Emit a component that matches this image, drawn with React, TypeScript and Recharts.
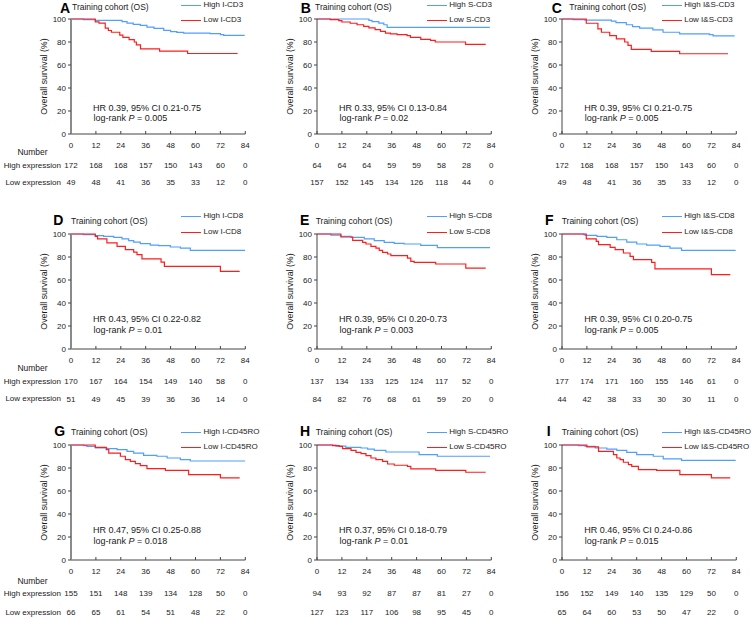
import { LineChart, Line, XAxis, YAxis } from 'recharts';

type Pt = [number, number];

const MONTHS = [0, 12, 24, 36, 48, 60, 72, 84];
const SURV_TICKS = [0, 20, 40, 60, 80, 100];

const LETTERS = ['A', 'B', 'C', 'D', 'E', 'F', 'G', 'H', 'I'];
const MARKERS = ['I-CD3', 'S-CD3', 'I&S-CD3', 'I-CD8', 'S-CD8', 'I&S-CD8', 'I-CD45RO', 'S-CD45RO', 'I&S-CD45RO'];
const HR_TEXT = [
  'HR 0.39, 95% CI 0.21-0.75', 'HR 0.33, 95% CI 0.13-0.84', 'HR 0.39, 95% CI 0.21-0.75',
  'HR 0.43, 95% CI 0.22-0.82', 'HR 0.39, 95% CI 0.20-0.73', 'HR 0.39, 95% CI 0.20-0.75',
  'HR 0.47, 95% CI 0.25-0.88', 'HR 0.37, 95% CI 0.18-0.79', 'HR 0.46, 95% CI 0.24-0.86',
];
const P_TEXT = ['0.005', '0.02', '0.005', '0.01', '0.003', '0.005', '0.018', '0.01', '0.015'];

// numbers at risk, one row per panel, at 0..84 months
const RISK_HIGH = [
  [172, 168, 168, 157, 150, 143, 60, 0],
  [64, 64, 64, 59, 59, 58, 28, 0],
  [172, 168, 168, 157, 150, 143, 60, 0],
  [170, 167, 164, 154, 149, 140, 58, 0],
  [137, 134, 133, 125, 124, 117, 52, 0],
  [177, 174, 171, 160, 155, 146, 61, 0],
  [155, 151, 148, 139, 134, 128, 50, 0],
  [94, 93, 92, 87, 87, 81, 27, 0],
  [156, 152, 149, 140, 135, 129, 50, 0],
];
const RISK_LOW = [
  [49, 48, 41, 36, 35, 33, 12, 0],
  [157, 152, 145, 134, 126, 118, 44, 0],
  [49, 48, 41, 36, 35, 33, 12, 0],
  [51, 49, 45, 39, 36, 36, 14, 0],
  [84, 82, 76, 68, 61, 59, 20, 0],
  [44, 42, 38, 33, 30, 30, 11, 0],
  [66, 65, 61, 54, 51, 48, 22, 0],
  [127, 123, 117, 106, 98, 95, 45, 0],
  [65, 64, 60, 53, 50, 47, 22, 0],
];

// KM steps: [month, survival %]
const A_HIGH: Pt[] = [[0, 100], [6, 99.5], [11.7, 98.8], [24.6, 97.7], [27, 96.5], [30, 95.4], [33.4, 94.5], [36.6, 93], [40, 91.9], [44.7, 90.1], [48, 89], [51, 88.4], [54.3, 87.8], [67, 87.3], [72, 86.5], [73.6, 85.8], [83.7, 85.8]];
const A_LOW: Pt[] = [[0, 100], [11.7, 97.5], [13.5, 96.5], [16.5, 92], [18, 90], [19.5, 88.5], [23.5, 86], [25, 84], [28, 82], [30.5, 80], [31.5, 77.5], [33.5, 74], [42.7, 72], [56.2, 70], [80.3, 70]];
const B_HIGH: Pt[] = [[0, 100], [25, 98.8], [26.5, 97.8], [29.8, 96.5], [32.2, 95], [33.8, 92.8], [83.3, 92.8]];
const B_LOW: Pt[] = [[0, 100], [6.4, 99.4], [10.5, 98.6], [12, 97.4], [16, 96.3], [19.3, 95], [22.5, 93.6], [25, 92.2], [28, 90.7], [30.6, 89.3], [33, 87.8], [35.4, 87], [38.6, 86.4], [43.4, 85.5], [45, 84], [50, 82.2], [54.7, 81.4], [57, 80], [71.6, 78], [81.3, 78]];
const C_HIGH: Pt[] = [[0, 100], [5.3, 99.5], [11, 99], [23.8, 98.2], [26, 96.8], [31, 95], [34, 93.4], [37.4, 92], [43.8, 90.5], [48.7, 88.5], [56.7, 87], [71, 86.5], [72.8, 85.3], [83.2, 85.3]];
const C_LOW: Pt[] = [[0, 100], [11.7, 96.3], [17.3, 91.4], [19, 88.5], [23, 85.6], [26.2, 82.8], [30.2, 80], [31.8, 77], [33.4, 73.6], [43, 71.8], [56.7, 69.8], [80, 69.8]];
const D_HIGH: Pt[] = [[0, 100], [6, 99.5], [11.7, 98.6], [15.7, 98], [20.6, 97.1], [24.6, 95.7], [27.8, 94.2], [30.2, 93], [33.4, 91.6], [38.2, 90.4], [42.2, 89.9], [47.9, 88.7], [52.7, 87.8], [57.5, 85.8], [84, 85.8]];
const D_LOW: Pt[] = [[0, 100], [11.7, 98], [12.8, 95.7], [17.3, 92.2], [22.2, 89.3], [26.2, 86.4], [30.2, 84.3], [31.8, 82], [34.2, 78.3], [43.4, 75.6], [45, 71.9], [72, 67.5], [81.3, 67.5]];
const E_HIGH: Pt[] = [[0, 100], [6.7, 99], [11.5, 98], [16.4, 97.1], [22.8, 95.7], [27.6, 94.2], [32.4, 92.8], [37.2, 91.9], [42, 91.3], [50, 90.1], [58, 88.2], [83.4, 88.2]];
const E_LOW: Pt[] = [[0, 100], [11.5, 97.4], [17.2, 94.5], [22, 92.8], [23.6, 91.3], [26, 89.3], [28.4, 87.8], [30, 85.8], [31.6, 84], [34, 82.6], [35.6, 81.2], [43.6, 79.1], [45.2, 76.2], [46.8, 75.4], [57.2, 73.9], [71.7, 70.4], [81.3, 70.4]];
const F_HIGH: Pt[] = [[0, 100], [10.4, 99.5], [11.2, 98.8], [16.8, 98], [21.6, 97.1], [26.4, 95], [31.2, 93], [36, 91.3], [40.8, 90.4], [47.2, 89.3], [52, 87.8], [57.6, 85.8], [83.7, 85.8]];
const F_LOW: Pt[] = [[0, 100], [11.7, 95.7], [16.5, 93.6], [17.6, 90.7], [23.2, 88.4], [25.6, 86.4], [29.6, 83.5], [32.8, 80.6], [34.4, 77.7], [43.2, 75.4], [44.8, 69.6], [72, 64.6], [81.1, 64.6]];
const G_HIGH: Pt[] = [[0, 100], [6.1, 99.5], [7.7, 98.8], [11.7, 97.4], [17.3, 96.8], [22.2, 96], [27, 94.5], [30.2, 93], [35, 91], [41.4, 90.2], [46.3, 88.7], [52.7, 87.3], [57.5, 86.1], [84, 86.1]];
const G_LOW: Pt[] = [[0, 100], [11.7, 98], [17, 96], [18.2, 93], [23.8, 90.2], [26.2, 87.3], [28.6, 85.8], [31, 83.8], [33.4, 82], [36.6, 79.5], [45.5, 78], [56.7, 74.3], [72, 71.4], [81.3, 71.4]];
const H_HIGH: Pt[] = [[0, 100], [9.1, 99], [13.9, 98], [21.2, 97.4], [24.4, 96.5], [27.6, 95.4], [33.2, 93.9], [49.2, 91.6], [58, 90.2], [83.4, 90.2]];
const H_LOW: Pt[] = [[0, 100], [7.5, 99.4], [10.7, 98.8], [12.3, 96.8], [16.4, 95.4], [18.8, 93.6], [21.2, 92.5], [23.6, 90.8], [26, 88.7], [28.4, 87.3], [31.6, 85.8], [34, 83.5], [37.2, 82.4], [43.6, 81.5], [45.2, 79.2], [57.2, 78], [71.7, 76.3], [81.3, 76.3]];
const I_HIGH: Pt[] = [[0, 100], [8, 99.5], [11.2, 98.8], [16, 97.4], [21.6, 96.5], [26.4, 95.4], [31.2, 93.6], [36, 91.6], [44, 90.2], [48.8, 87.9], [57.6, 86.7], [83.7, 86.7]];
const I_LOW: Pt[] = [[0, 100], [12, 98.3], [17.6, 94.5], [24.8, 91.6], [26.4, 88.7], [28, 87.3], [29.6, 85], [32, 82.9], [33.6, 81.5], [36.8, 78.6], [45.6, 78], [56.8, 74.3], [72, 71.4], [81.1, 71.4]];

const HIGH_CURVES = [A_HIGH, B_HIGH, C_HIGH, D_HIGH, E_HIGH, F_HIGH, G_HIGH, H_HIGH, I_HIGH];
const LOW_CURVES = [A_LOW, B_LOW, C_LOW, D_LOW, E_LOW, F_LOW, G_LOW, H_LOW, I_LOW];

const BLUE = '#4f9fff';
const RED = '#ff1c1c';
const INK = '#1a1a1a';
const FONT = "'Liberation Sans', Arial, Helvetica, sans-serif";

// layout (page pixels)
const COL_AXIS = [70.7, 316.7, 562];
const ROW_TOP = [19.3, 234.3, 445.3];
const ROW = [
  { title: 6.7, letter: 7.9, legHi: 5, legLo: 20, hr: 107.7, num: 152, hiOff: 28.5, loOff: 45.6, hiRow: 165.7, loRow: 182.8 },
  { title: 220.7, letter: 220, legHi: 216, legLo: 231.7, hr: 319.3, num: 367.7, hiOff: 29.5, loOff: 46.9, hiRow: 381.7, loRow: 399 },
  { title: 431.7, letter: 431.3, legHi: 432.3, legLo: 446.7, hr: 530, num: 581, hiOff: 30.5, loOff: 49.2, hiRow: 594, loRow: 612.7 },
];
const LETTER_X = [60, 300.7, 551.7, 53.3, 300, 545, 54.3, 300, 546.7];
const TITLE_X = [72, 315, 569.3, 71, 315.7, 561.7, 71, 315.7, 561.7];
const LEGEND_DX = [110.3, 110, 99.7];

const CHART_W = 265;
const PLOT_H = 115;
const M_LEFT = 17;
const Y_W = 54;
const M_RIGHT = CHART_W - M_LEFT - Y_W - 174.3;
const TICK_OFF = 8.3; // month label top, below plot bottom

function Txt({ x, y, size, children, anchor = 'start', bold = false, lh = 1 }: any) {
  const tx = anchor === 'end' ? '-100%' : anchor === 'middle' ? '-50%' : '0';
  return (
    <div
      style={{
        position: 'absolute', left: x, top: y, transform: `translate(${tx}, -50%)`,
        fontSize: size, lineHeight: lh, whiteSpace: 'nowrap', fontFamily: FONT,
        fontWeight: bold ? 'bold' : 'normal', color: bold ? '#000' : INK,
      }}
    >
      {children}
    </div>
  );
}

// month label plus the two numbers-at-risk rows under it
function RiskTick({ x, y, payload, i, row }: any) {
  const k = Math.round(payload.value / 12);
  const common = { x, textAnchor: 'middle' as const, fontSize: 8, fill: INK, fontFamily: FONT, dy: '0.71em' };
  return (
    <g>
      <text {...common} y={y}>{payload.value}</text>
      <text {...common} y={y + row.hiOff - TICK_OFF}>{RISK_HIGH[i][k]}</text>
      <text {...common} y={y + row.loOff - TICK_OFF}>{RISK_LOW[i][k]}</text>
    </g>
  );
}

function Panel({ i }: { i: number }) {
  const r = Math.floor(i / 3);
  const c = i % 3;
  const row = ROW[r];
  const axisX = COL_AXIS[c];
  const top = ROW_TOP[r];
  const high = HIGH_CURVES[i].map(([t, s]) => ({ t, s }));
  const low = LOW_CURVES[i].map(([t, s]) => ({ t, s }));
  const yAxisColor = c === 0 ? '#8a8a8a' : '#444';
  const yAxisWidth = c === 0 ? 2 : 1;
  const legX = axisX + LEGEND_DX[c];

  return (
    <>
      <div style={{ position: 'absolute', left: axisX - M_LEFT - Y_W, top: top - 5 }}>
        <LineChart
          width={CHART_W}
          height={5 + PLOT_H + 57}
          margin={{ top: 5, right: M_RIGHT, left: M_LEFT, bottom: 0 }}
        >
          <XAxis
            dataKey="t" type="number" domain={[0, 84]} ticks={MONTHS}
            allowDataOverflow height={57} tickSize={-3} tickMargin={TICK_OFF + 3}
            stroke="#444"
            tick={(p: any) => <RiskTick {...p} i={i} row={row} />}
          />
          <YAxis
            type="number" domain={[0, 100]} ticks={SURV_TICKS} width={Y_W}
            tickSize={3} tickMargin={2}
            axisLine={{ stroke: yAxisColor, strokeWidth: yAxisWidth }}
            tickLine={{ stroke: '#444' }}
            tick={{ fontSize: 8, fill: INK, fontFamily: FONT }}
            label={{ value: 'Overall survival (%)', angle: -90, position: 'center', fontSize: 8.8, fill: INK, fontFamily: FONT }}
          />
          <Line
            data={high} dataKey="s" type="stepAfter" stroke={BLUE}
            strokeWidth={1.2} dot={false} isAnimationActive={false}
          />
          <Line
            data={low} dataKey="s" type="stepAfter" stroke={RED}
            strokeWidth={1.2} dot={false} isAnimationActive={false}
          />
        </LineChart>
      </div>

      <Txt x={LETTER_X[i]} y={row.letter} size={14} bold lh={0.75}>{LETTERS[i]}</Txt>
      <Txt x={TITLE_X[i]} y={row.title} size={8.5}>Training cohort (OS)</Txt>

      <div style={{ position: 'absolute', left: legX, top: row.legHi, width: 20, height: 1, background: BLUE }} />
      <Txt x={legX + 22.5} y={row.legHi} size={8}>High {MARKERS[i]}</Txt>
      <div style={{ position: 'absolute', left: legX, top: row.legLo, width: 20, height: 1, background: RED }} />
      <Txt x={legX + 22.5} y={row.legLo} size={8}>Low {MARKERS[i]}</Txt>

      <Txt x={axisX + 22.3} y={row.hr} size={9}>{HR_TEXT[i]}</Txt>
      <Txt x={axisX + 22.8} y={row.hr + 10.7} size={9}>
        log-rank <i>P</i> = {P_TEXT[i]}
      </Txt>

      {c === 0 && (
        <>
          <Txt x={32.5} y={row.num} size={8.5} anchor="middle">Number</Txt>
          <Txt x={61} y={row.hiRow} size={8} anchor="end">High expression</Txt>
          <Txt x={61} y={row.loRow} size={8} anchor="end">Low expression</Txt>
        </>
      )}
    </>
  );
}

export default function App() {
  return (
    <div
      style={{
        position: 'absolute', left: 0, top: 0, width: 756, height: 618,
        overflow: 'hidden', background: '#fff', fontFamily: FONT,
      }}
    >
      {LETTERS.map((_, i) => (
        <Panel key={i} i={i} />
      ))}
    </div>
  );
}
